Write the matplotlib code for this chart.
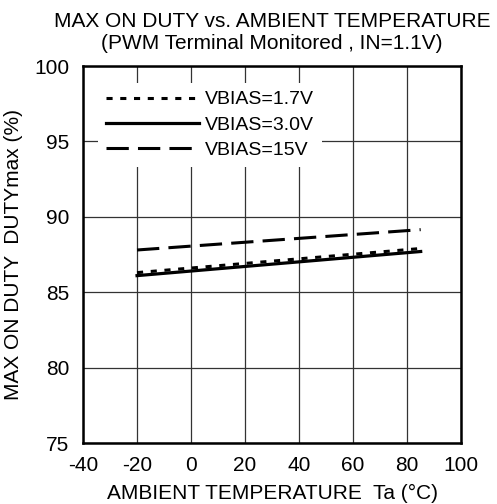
import matplotlib
matplotlib.use("Agg")
import matplotlib.pyplot as plt

plt.rcParams['font.family'] = ['Liberation Sans', 'DejaVu Sans']
plt.rcParams['axes.unicode_minus'] = False

# data
temp = [-20, 85]
duty_17 = [86.3, 87.9]
duty_30 = [86.1, 87.7]
duty_15 = [87.8, 89.15]
labels = ["VBIAS=1.7V", "VBIAS=3.0V", "VBIAS=15V"]
xticks = [-40, -20, 0, 20, 40, 60, 80, 100]
yticks = [75, 80, 85, 90, 95, 100]

fig = plt.figure(figsize=(4.97, 5.04), dpi=100)
ax = fig.add_axes([0.167, 0.121, 0.761, 0.748])

ax.plot(temp, duty_17, color='black', lw=2.2, ls=(0, (2, 2.5)), label=labels[0])
ax.plot(temp, duty_30, color='black', lw=2.3, ls='-', label=labels[1])
ax.plot(temp, duty_15, color='black', lw=2.2, ls=(0, (7.3, 3)), label=labels[2])

ax.set_xlim(-40, 100)
ax.set_ylim(75, 100)
ax.set_xticks(xticks)
ax.set_yticks(yticks)
ax.tick_params(length=0, labelsize=15)
ax.tick_params(axis='y', pad=10)
ax.tick_params(axis='x', pad=9)
ax.grid(True, color='#333333', lw=0.9)
for sp in ax.spines.values():
    sp.set_linewidth(1.8)

ax.set_xlabel("AMBIENT TEMPERATURE  Ta (°C)", fontsize=15, labelpad=7)
ax.set_ylabel("MAX ON DUTY  DUTYmax (%)", fontsize=15, labelpad=8)
ax.set_title("MAX ON DUTY vs. AMBIENT TEMPERATURE\n(PWM Terminal Monitored , IN=1.1V)",
             fontsize=15, linespacing=1.2, pad=12)

leg = ax.legend(loc='upper left', bbox_to_anchor=(0.04, 0.955), frameon=True,
                fontsize=14, handlelength=4.8, handletextpad=0.3,
                labelspacing=0.4, borderpad=0.4, borderaxespad=0)
leg.get_frame().set_edgecolor('none')
leg.get_frame().set_facecolor('white')
leg.get_frame().set_alpha(1)
leg.get_frame().set_boxstyle('square', pad=0)

fig.savefig("out.png", dpi=100)
